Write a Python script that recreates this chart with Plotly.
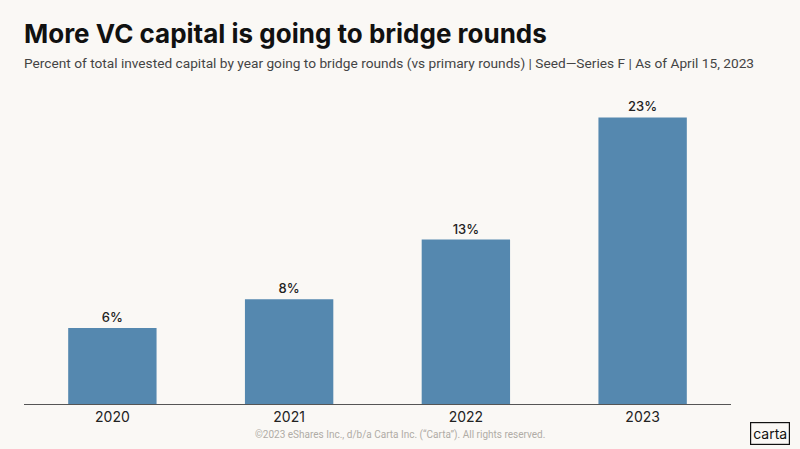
import plotly.graph_objects as go

# Chart data
years = ["2020", "2021", "2022", "2023"]
bridge_share = [6.1, 8.4, 13.2, 23.0]  # % of invested capital going to bridge rounds

BG = "#FAF8F5"
BAR = "#5588AF"
FONT = "Inter, 'Noto Sans', sans-serif"
FONT_NARROW = "Roboto, 'Noto Sans', sans-serif"

fig = go.Figure()

fig.add_trace(
    go.Bar(
        x=years,
        y=bridge_share,
        width=0.5,
        marker=dict(color=BAR, line=dict(width=0)),
        texttemplate="%{y:.0f}%",
        textposition="outside",
        textfont=dict(size=13, color="#222222", family=FONT, weight=500),
        cliponaxis=False,
        hoverinfo="skip",
    )
)

# Title + subtitle
fig.add_annotation(
    text="<b>More VC capital is going to bridge rounds</b>",
    xref="paper", yref="paper", x=-0.003, y=1.0, yshift=62,
    xanchor="left", yanchor="middle", showarrow=False,
    font=dict(size=26, color="#111111", family=FONT),
)
fig.add_annotation(
    text="Percent of total invested capital by year going to bridge rounds (vs primary rounds) | Seed\u2014Series F | As of April 15, 2023",
    xref="paper", yref="paper", x=-0.003, y=1.0, yshift=32,
    xanchor="left", yanchor="middle", showarrow=False,
    font=dict(size=13.7, color="#444444", family=FONT_NARROW),
)

# Footer
fig.add_annotation(
    text="\u00a92023 eShares Inc., d/b/a Carta Inc. (\u201cCarta\u201d). All rights reserved.",
    xref="paper", yref="paper", x=0.532, y=0, yshift=-31,
    xanchor="center", yanchor="middle", showarrow=False,
    font=dict(size=10, color="#B0ACA6", family=FONT_NARROW),
)
fig.add_annotation(
    text="carta",
    xref="paper", yref="paper", x=1.0, y=0, xshift=39, yshift=-29,
    xanchor="center", yanchor="middle", showarrow=False,
    font=dict(size=14, color="#111111", family=FONT),
    bordercolor="#111111", borderwidth=1.2, borderpad=2,
    bgcolor=BG,
)

fig.update_layout(
    width=800,
    height=449,
    paper_bgcolor=BG,
    plot_bgcolor=BG,
    margin=dict(l=24, r=69, t=95, b=45),
    showlegend=False,
    bargap=0.5,
    xaxis=dict(
        type="category",
        range=[-0.5, 3.5],
        showline=True,
        linecolor="#555555",
        linewidth=1,
        ticks="",
        showgrid=False,
        tickfont=dict(size=14, color="#222222", family=FONT),
        fixedrange=True,
    ),
    yaxis=dict(
        range=[0, 24.8],
        visible=False,
        showgrid=False,
        zeroline=False,
        fixedrange=True,
    ),
)

fig.write_html(
    "out.html",
    config={"displayModeBar": False},
    post_script="document.body.style.margin='0';",
)
